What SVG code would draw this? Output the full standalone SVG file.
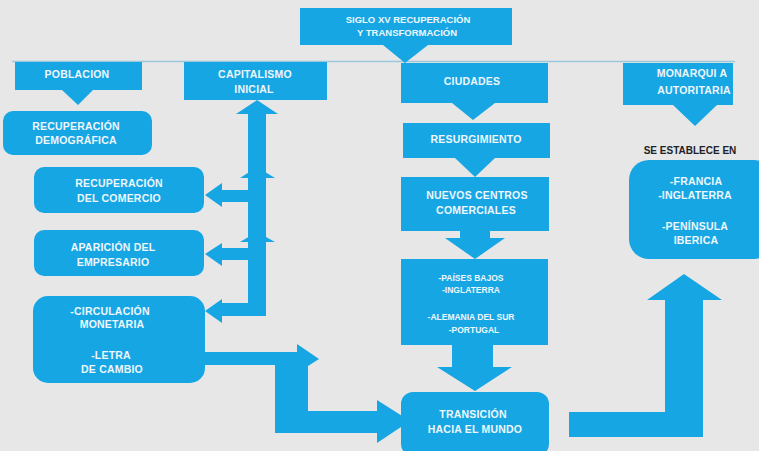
<svg xmlns="http://www.w3.org/2000/svg" width="759" height="451" viewBox="0 0 759 451">
<style>
.bx{fill:#17a6e4}
.ar{fill:#17a6e4}
.t{font-family:"Liberation Sans",Arial,sans-serif;font-size:10.5px;font-weight:bold;letter-spacing:0.2px;fill:#eef7fb;text-anchor:middle}
.s{font-size:8.5px;letter-spacing:0}
.h{font-size:9.5px;letter-spacing:0}
.d{font-family:"Liberation Sans",Arial,sans-serif;font-size:10px;font-weight:bold;fill:#1b2228;text-anchor:middle}
</style>
<rect width="759" height="451" fill="#e7e7e7"/>
<g id="connectors">
<line x1="12" y1="61.5" x2="735" y2="61.5" stroke="#9cc7dc" stroke-width="1.3"/>
<polygon class="ar" points="383,45 428,45 405,63"/>
<polygon class="ar" points="62,90 93,90 78,105"/>
<polygon class="ar" points="452,103 495,103 473,120"/>
<polygon class="ar" points="673,105 717,105 695,126"/>
<polygon class="ar" points="455,158 495,158 475,177"/>
<polygon class="ar" points="460,231 490,231 490,238 505,238 475,259 445,238 460,238"/>
<polygon class="ar" points="452,345 493,345 493,367 512,367 475,391 437,367 452,367"/>
<polygon class="ar" points="248,108 266,108 266,316 222,316 222,323 205,311 222,299 222,303 248,303"/>
<polygon class="ar" points="236,114 257,100 278,114"/>
<polygon class="ar" points="240,178 257,167 275,178"/>
<polygon class="ar" points="240,242 257,232 275,242"/>
<polygon class="ar" points="248,190 248,202 222,202 222,207 205,195 222,183 222,190"/>
<polygon class="ar" points="248,248 248,260 222,260 222,266 205,254 222,243 222,248"/>
<polygon class="ar" points="205,352 297,352 297,344 319,359 308,366 308,411 377,411 377,400 410,421 377,443 377,433 275,433 275,365 205,365"/>
<polygon class="ar" points="569,412 665,412 665,300 647,300 684,274 722,300 703,300 703,437 569,437"/>
</g>
<g id="siglo"><rect class="bx" x="300" y="8" width="212" height="37"/>
<text class="t h" x="408" y="23">SIGLO XV RECUPERACIÓN</text>
<text class="t h" x="407" y="36">Y TRANSFORMACIÓN</text></g>
<g id="poblacion"><rect class="bx" x="15" y="62" width="127" height="28"/>
<text class="t" x="77" y="78">POBLACION</text></g>
<g id="demografica"><rect class="bx" x="3" y="111" width="149" height="44" rx="10"/>
<text class="t" x="76" y="130">RECUPERACIÓN</text>
<text class="t" x="76" y="144">DEMOGRÁFICA</text></g>
<g id="capitalismo"><rect class="bx" x="184" y="62" width="143" height="38"/>
<text class="t" x="255" y="78">CAPITALISMO</text>
<text class="t" x="254" y="93">INICIAL</text></g>
<g id="comercio"><rect class="bx" x="34" y="167" width="170" height="46" rx="10"/>
<text class="t" x="119" y="187">RECUPERACIÓN</text>
<text class="t" x="119" y="202">DEL COMERCIO</text></g>
<g id="empresario"><rect class="bx" x="34" y="230" width="170" height="46" rx="10"/>
<text class="t" x="113" y="251">APARICIÓN DEL</text>
<text class="t" x="113" y="266">EMPRESARIO</text></g>
<g id="circulacion"><rect class="bx" x="33" y="296" width="172" height="87" rx="15"/>
<text class="t" x="110" y="315">-CIRCULACIÓN</text>
<text class="t" x="112" y="328">MONETARIA</text>
<text class="t" x="111" y="359">-LETRA</text>
<text class="t" x="112" y="373">DE CAMBIO</text></g>
<g id="ciudades"><rect class="bx" x="401" y="63" width="147" height="40"/>
<text class="t" x="472" y="85">CIUDADES</text></g>
<g id="resurgimiento"><rect class="bx" x="403" y="123" width="147" height="35"/>
<text class="t" x="476" y="143">RESURGIMIENTO</text></g>
<g id="nuevos"><rect class="bx" x="401" y="177" width="148" height="54"/>
<text class="t" x="477" y="199">NUEVOS CENTROS</text>
<text class="t" x="476" y="214">COMERCIALES</text></g>
<g id="paises"><rect class="bx" x="401" y="259" width="147" height="86"/>
<text class="t s" x="471" y="281">-PAÍSES BAJOS</text>
<text class="t s" x="471" y="293">-INGLATERRA</text>
<text class="t s" x="471" y="320">-ALEMANIA DEL SUR</text>
<text class="t s" x="474" y="333">-PORTUGAL</text></g>
<g id="transicion"><rect class="bx" x="401" y="392" width="148" height="64" rx="12"/>
<text class="t" x="473" y="418">TRANSICIÓN</text>
<text class="t" x="475" y="433">HACIA EL MUNDO</text></g>
<g id="monarquia"><rect class="bx" x="623" y="63" width="110" height="42"/>
<text class="t" x="692" y="77">MONARQUI A</text>
<text class="t" x="694" y="94">AUTORITARIA</text></g>
<g id="establece">
<text class="d" x="690" y="154">SE ESTABLECE EN</text></g>
<g id="paises-monarquia"><rect class="bx" x="629" y="160" width="145" height="99" rx="20"/>
<text class="t" x="696" y="185">-FRANCIA</text>
<text class="t" x="695" y="199">-INGLATERRA</text>
<text class="t" x="695" y="230">-PENÍNSULA</text>
<text class="t" x="696" y="244">IBERICA</text></g>
</svg>
